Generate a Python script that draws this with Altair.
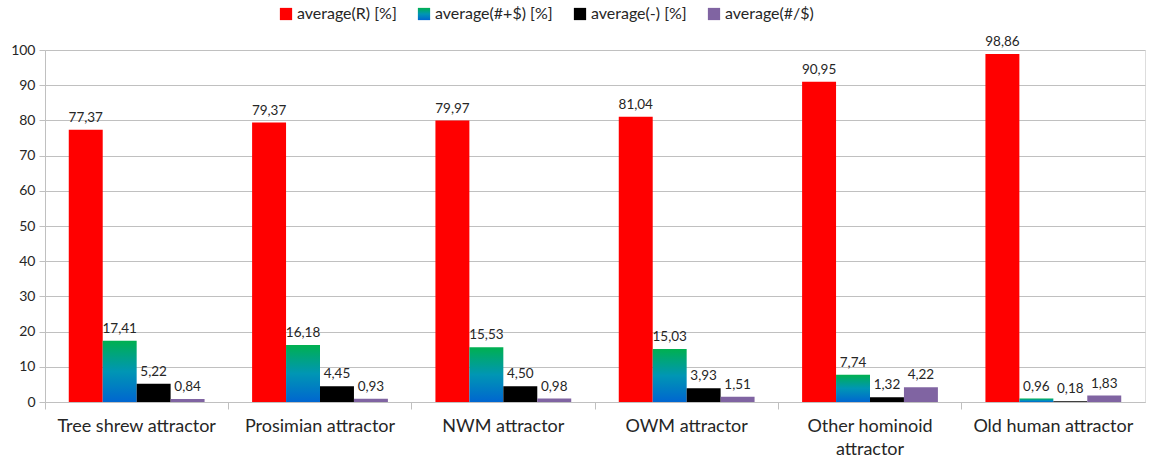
import altair as alt
import pandas as pd

# Categories and series
categories = [
    "Tree shrew attractor",
    "Prosimian attractor",
    "NWM attractor",
    "OWM attractor",
    "Other hominoid attractor",
    "Old human attractor",
]
series = ["average(R) [%]", "average(#+$) [%]", "average(-) [%]", "average(#/$)"]

avg_r = [77.37, 79.37, 79.97, 81.04, 90.95, 98.86]
avg_hash_plus = [17.41, 16.18, 15.53, 15.03, 7.74, 0.96]
avg_minus = [5.22, 4.45, 4.50, 3.93, 1.32, 0.18]
avg_hash_slash = [0.84, 0.93, 0.98, 1.51, 4.22, 1.83]

y_ticks = list(range(0, 101, 10))

rows = []
for i, cat in enumerate(categories):
    for s, vals in zip(series, [avg_r, avg_hash_plus, avg_minus, avg_hash_slash]):
        v = vals[i]
        rows.append({
            "category": cat,
            "series": s,
            "value": v,
            "label": f"{v:.2f}".replace(".", ","),
        })
df = pd.DataFrame(rows)

FONT = "Lato"
TEXT = "#262626"
GRID = "#c0c0c0"

green_blue = "{gradient: 'linear', x1: 0, y1: 0, x2: 0, y2: 1, stops: [{offset: 0, color: '#00b050'}, {offset: 0.5, color: '#0096b4'}, {offset: 1, color: '#0066d0'}]}"

color_scale = alt.Scale(
    domain=series,
    range=["#ff0000", alt.ExprRef(green_blue), "#000000", "#8064a2"],
)

x_enc = alt.X(
    "category:N",
    sort=categories,
    scale=alt.Scale(paddingInner=0, paddingOuter=0),
    axis=alt.Axis(
        title=None,
        labelAngle=0,
        bandPosition=0,
        labelFont=FONT,
        labelFontSize=18,
        labelColor=TEXT,
        labelPadding=8,
        labelLineHeight=23,
        labelExpr="datum.label == 'Other hominoid attractor' ? ['Other hominoid', 'attractor'] : datum.label",
        domainColor=GRID,
        tickColor=GRID,
        tickSize=7,
        grid=False,
    ),
)

y_axis = alt.Axis(
    title=None,
    values=y_ticks,
    tickCount=len(y_ticks) + 1,
    labelOverlap=False,
    labelFont=FONT,
    labelFontSize=14,
    labelColor=TEXT,
    labelPadding=4,
    tickColor=GRID,
    tickSize=6,
    domainColor=GRID,
    gridColor=GRID,
    gridWidth=1,
)
y_scale = alt.Scale(domain=[0, 100], nice=False)

bars = alt.Chart(df).mark_bar().encode(
    x=x_enc,
    xOffset=alt.XOffset(
        "series:N",
        sort=series,
        scale=alt.Scale(paddingInner=0, paddingOuter=0.7),
    ),
    y=alt.Y("value:Q", scale=y_scale, axis=y_axis),
    color=alt.Color(
        "series:N",
        sort=series,
        scale=color_scale,
        legend=alt.Legend(
            title=None,
            orient="none",
            direction="horizontal",
            legendX=233,
            legendY=-44,
            symbolType="square",
            symbolSize=150,
            symbolStrokeWidth=0,
            labelFont=FONT,
            labelFontSize=16,
            labelColor=TEXT,
            labelOffset=3,
            columnPadding=19,
        ),
    ),
)

labels = alt.Chart(df).mark_text(
    baseline="bottom",
    dy=-5,
    font=FONT,
    fontSize=13.5,
    color=TEXT,
).encode(
    x=alt.X("category:N", sort=categories),
    xOffset=alt.XOffset("series:N", sort=series),
    y=alt.Y("value:Q", scale=y_scale, axis=y_axis),
    text="label:N",
)

chart = (
    alt.layer(bars, labels)
    .properties(
        width=1100,
        height=352,
        autosize=alt.AutoSizeParams(type="none"),
        padding={"left": 45, "top": 50, "right": 8, "bottom": 58},
    )
    .configure_view(stroke=None)
    .configure(background="white")
)

chart.save("out.html", embed_options={"renderer": "svg", "actions": False})
